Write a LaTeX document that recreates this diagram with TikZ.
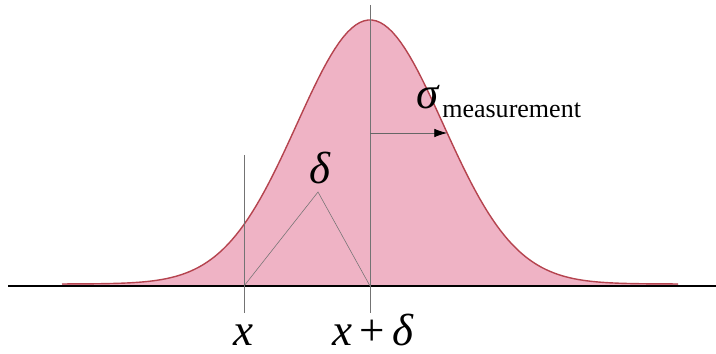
\documentclass[tikz,border=0pt]{standalone}
\usepackage{amsmath,amssymb}
\usepackage{fontspec}
\setmainfont{Liberation Serif}
\usepackage{xcolor}
\usetikzlibrary{positioning,arrows.meta}

\definecolor{bellfill}{HTML}{EFB3C5}
\definecolor{bellline}{HTML}{B5444F}
\tikzset{
  guide/.style={draw=black!55, line width=0.5pt},
  biglabel/.style={font=\fontsize{32}{36}\selectfont\itshape, inner sep=0pt}
}

\begin{document}
\begin{tikzpicture}[x=0.025cm, y=-0.025cm]
  \useasboundingbox (0,0) rectangle (716,354);
  % bell curve
  \fill[bellfill] plot[domain=62:678, samples=150] (\x, {284-264*exp(-((\x-370)/73)^2/2)})
    -- (678,286) -- (62,286) -- cycle;
  \draw[bellline, line width=1pt] plot[domain=62:678, samples=150] (\x, {284-264*exp(-((\x-370)/73)^2/2)});
  % axis
  \coordinate (axl) at (8,286);
  \coordinate (axr) at (716,286);
  \draw[black, line width=1pt] (axl) -- (axr);
  % guides
  \coordinate (xtop) at (244,155);
  \coordinate (xbot) at (244,313);
  \coordinate (ctop) at (370,5);
  \coordinate (cbot) at (370,313);
  \draw[guide] (xtop) -- (xbot);
  \draw[guide] (ctop) -- (cbot);
  % triangle
  \coordinate (tl) at (244,286);
  \coordinate (apex) at (318,192);
  \coordinate (tr) at (370,286);
  \draw[black!55, line width=0.4pt] (tl) -- (apex) -- (tr);
  % sigma arrow
  \coordinate (sa) at (370,133);
  \coordinate (sb) at (447,133);
  \draw[black!60, line width=0.5pt, -{Latex[length=9pt,width=6pt,color=black]}] (sa) -- (sb);
  % labels
  \node[biglabel] (delta) at (320,168) {δ};
  \node[biglabel] (sig) at (428,97) {σ};
  \node[font=\fontsize{18.5}{22}\selectfont, inner sep=0pt, anchor=base west] (meas) at (442,118) {measurement};
  \node[biglabel, anchor=base] (xlab) at (243,345) {x};
  \node[biglabel, anchor=base] (xdlab) at (373,345) {x\,{\upshape+}\,δ};
\end{tikzpicture}
\end{document}
